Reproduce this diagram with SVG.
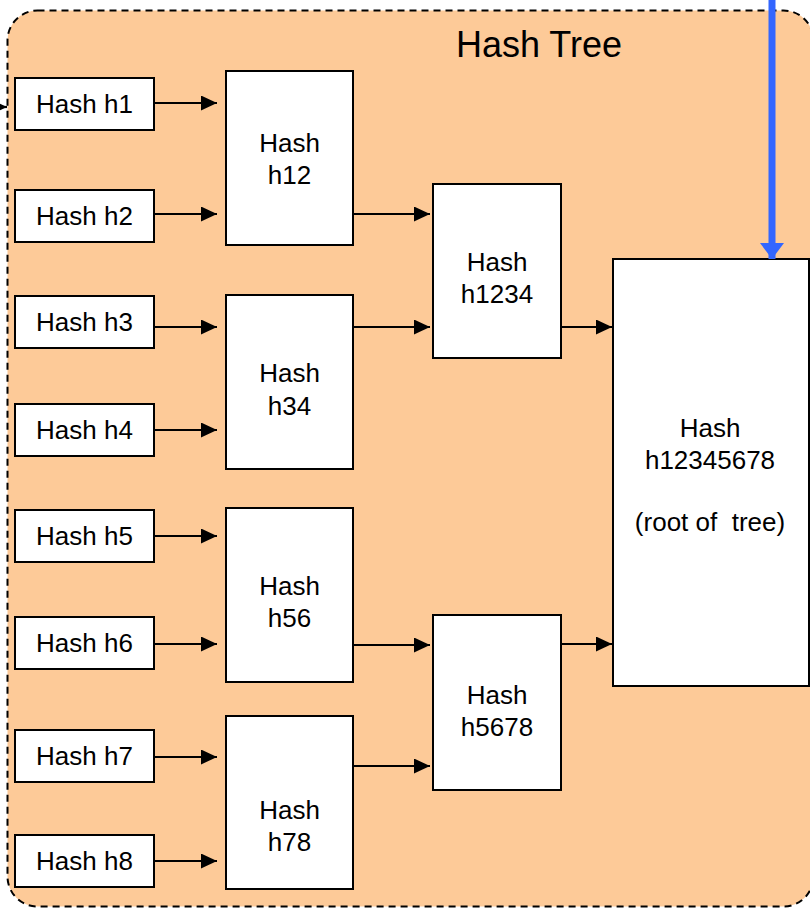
<svg xmlns="http://www.w3.org/2000/svg" width="810" height="908" viewBox="0 0 810 908">
<style>
.box{fill:#fff;stroke:#000;stroke-width:2}
.t{font-family:"Liberation Sans",Arial,sans-serif;font-size:26px;fill:#000;text-anchor:middle}
.tl{font-family:"Liberation Sans",Arial,sans-serif;font-size:36px;fill:#000;text-anchor:middle}
.c{stroke:#000;stroke-width:2.2;fill:none;marker-end:url(#ah)}
</style>
<defs>
<marker id="ah" viewBox="0 0 16 15" refX="16" refY="7.5" markerUnits="userSpaceOnUse" markerWidth="16" markerHeight="15" orient="auto">
<path d="M0,0 L16,7.5 L0,15 Z" fill="#000"/>
</marker>
<marker id="bh" viewBox="0 0 16 24" refX="16" refY="12" markerUnits="userSpaceOnUse" markerWidth="16" markerHeight="24" orient="auto">
<path d="M0,0 L16,12 L0,24 Z" fill="#3366FF"/>
</marker>
</defs>
<g id="container">
<rect x="7.5" y="10.5" width="806" height="896" rx="30" ry="30" fill="#FDCA98" stroke="#000" stroke-width="2" stroke-dasharray="7,5"/>
<text class="tl" x="539" y="57">Hash Tree</text>
</g>
<g id="h1"><rect class="box" x="15" y="78" width="139" height="52"/><text class="t" x="84.5" y="113">Hash h1</text></g>
<g id="h2"><rect class="box" x="15" y="190" width="139" height="52"/><text class="t" x="84.5" y="225">Hash h2</text></g>
<g id="h3"><rect class="box" x="15" y="296" width="139" height="52"/><text class="t" x="84.5" y="331">Hash h3</text></g>
<g id="h4"><rect class="box" x="15" y="404" width="139" height="52"/><text class="t" x="84.5" y="439">Hash h4</text></g>
<g id="h5"><rect class="box" x="15" y="510" width="139" height="52"/><text class="t" x="84.5" y="545">Hash h5</text></g>
<g id="h6"><rect class="box" x="15" y="617" width="139" height="52"/><text class="t" x="84.5" y="652">Hash h6</text></g>
<g id="h7"><rect class="box" x="15" y="730" width="139" height="52"/><text class="t" x="84.5" y="765">Hash h7</text></g>
<g id="h8"><rect class="box" x="15" y="835" width="139" height="52"/><text class="t" x="84.5" y="870">Hash h8</text></g>
<g id="h12"><rect class="box" x="226" y="71" width="127" height="174"/><text class="t" x="289.5" y="152">Hash</text><text class="t" x="289.5" y="184">h12</text></g>
<g id="h34"><rect class="box" x="226" y="295" width="127" height="174"/><text class="t" x="289.5" y="382">Hash</text><text class="t" x="289.5" y="415">h34</text></g>
<g id="h56"><rect class="box" x="226" y="508" width="127" height="174"/><text class="t" x="289.5" y="595">Hash</text><text class="t" x="289.5" y="627">h56</text></g>
<g id="h78"><rect class="box" x="226" y="716" width="127" height="173"/><text class="t" x="289.5" y="819">Hash</text><text class="t" x="289.5" y="851">h78</text></g>
<g id="h1234"><rect class="box" x="433" y="184" width="128" height="174"/><text class="t" x="497" y="271">Hash</text><text class="t" x="497" y="303">h1234</text></g>
<g id="h5678"><rect class="box" x="433" y="615" width="128" height="175"/><text class="t" x="497" y="704">Hash</text><text class="t" x="497" y="736">h5678</text></g>
<g id="root"><rect class="box" x="613" y="259" width="196" height="427"/><text class="t" x="710" y="437">Hash</text><text class="t" x="710" y="469">h12345678</text><text class="t" x="710" y="531" style="white-space:pre">(root of  tree)</text></g>
<g id="connectors">
<line class="c" x1="-20" y1="107" x2="7" y2="107"/>
<line class="c" x1="154" y1="103" x2="217" y2="103"/>
<line class="c" x1="154" y1="214" x2="217" y2="214"/>
<line class="c" x1="154" y1="327" x2="217" y2="327"/>
<line class="c" x1="154" y1="430" x2="217" y2="430"/>
<line class="c" x1="154" y1="536" x2="217" y2="536"/>
<line class="c" x1="154" y1="644" x2="217" y2="644"/>
<line class="c" x1="154" y1="757" x2="217" y2="757"/>
<line class="c" x1="154" y1="861" x2="217" y2="861"/>
<line class="c" x1="353" y1="214" x2="430" y2="214"/>
<line class="c" x1="353" y1="327" x2="430" y2="327"/>
<line class="c" x1="353" y1="645" x2="430" y2="645"/>
<line class="c" x1="353" y1="766" x2="430" y2="766"/>
<line class="c" x1="561" y1="327" x2="612" y2="327"/>
<line class="c" x1="561" y1="644" x2="612" y2="644"/>
<line x1="772" y1="0" x2="772" y2="259" stroke="#3366FF" stroke-width="7" marker-end="url(#bh)"/>
</g>
</svg>
